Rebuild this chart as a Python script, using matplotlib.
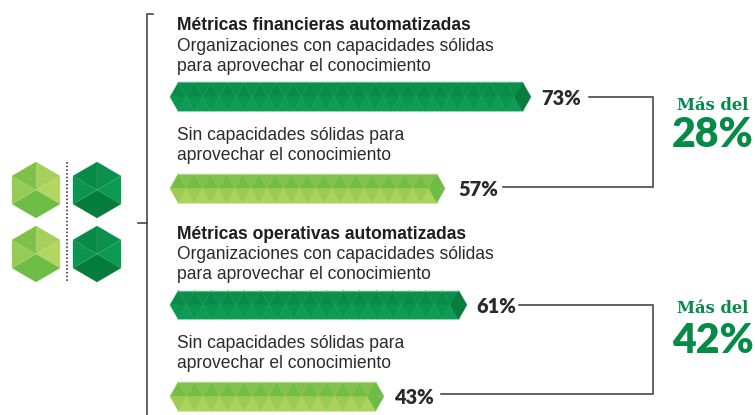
import matplotlib
matplotlib.use("Agg")
import matplotlib.pyplot as plt
from matplotlib.patches import Polygon

# ---- data ----
heads = ["Métricas financieras automatizadas", "Métricas operativas automatizadas"]
strong_label = ["Organizaciones con capacidades sólidas", "para aprovechar el conocimiento"]
weak_label = ["Sin capacidades sólidas para", "aprovechar el conocimiento"]
strong_vals = [73, 61]
weak_vals = [57, 43]
diffs = ["28%", "42%"]
diff_head = "Más del"

# ---- styles ----
W, H = 755, 415
PX_PER_PCT = 4.9
NOMINAL_TILE = 16.4
X0 = 170
DARK = dict(top="#0B8F4B", up="#098B48", lo="#0B9650", bot="#0D9C55", end="#067C3D", edge="#55BA8B", rim="#7CC8A2")
LIGHT = dict(top="#82C14D", up="#72BD46", lo="#9ACB52", bot="#ACD35C", end="#6BBD46", edge="#B5DC85", rim="#C5E29A")
INK = "#2B2A2B"
LINE = "#404040"
GREEN = "#058A48"

fig = plt.figure(figsize=(W/100, H/100), dpi=100)
ax = fig.add_axes([0, 0, 1, 1])
ax.set_xlim(0, W)
ax.set_ylim(H, 0)
ax.axis("off")


def poly(pts, c, z=2):
    ax.add_patch(Polygon(pts, closed=True, fc=c, ec=c, lw=0.2, zorder=z))


def bar(value, ytop, pal, tile, h=28.8):
    n = int(round(value*PX_PER_PCT/NOMINAL_TILE))
    ym, yb = ytop+h/2, ytop+h
    first = X0+tile/2
    last = X0+(n-0.5)*tile
    poly([(first, ytop), (last, ytop), (last, ym), (first, ym)], pal["top"])
    poly([(first, ym), (last, ym), (last, yb), (first, yb)], pal["bot"])
    for i in range(n):
        xc = X0+(i+0.5)*tile
        xl, xr = xc-tile/2, xc+tile/2
        up = pal["end"] if i == n-1 else pal["up"]
        lo = pal["end"] if i == n-1 else pal["lo"]
        poly([(xl, ym), (xc, ytop), (xr, ym)], up, 3)
        poly([(xl, ym), (xc, yb), (xr, ym)], lo, 3)
        if i < n-1:
            for a, b in [((xl, ym), (xc, ytop)), ((xc, ytop), (xr, ym)),
                         ((xl, ym), (xc, yb)), ((xc, yb), (xr, ym))]:
                ax.plot([a[0], b[0]], [a[1], b[1]], color=pal["edge"], lw=0.3, alpha=0.55, zorder=4)
    ax.plot([first, last], [ytop, ytop], color=pal["rim"], lw=0.5, zorder=4)
    ax.plot([first, last], [yb, yb], color=pal["rim"], lw=0.5, zorder=4)
    return X0+n*tile


def txt(x, y, s, **k):
    k.setdefault("family", "Liberation Sans")
    k.setdefault("color", INK)
    k.setdefault("va", "baseline")
    ax.text(x, y, s, **k)


def line(xs, ys, **k):
    k.setdefault("color", LINE)
    k.setdefault("lw", 1.15)
    ax.plot(xs, ys, solid_capstyle="projecting", solid_joinstyle="miter", **k)


FS = 12.62
NUM = dict(family="Lato", fontweight="heavy", fontsize=14.4, va="center")
blocks = [
    dict(base=(30.5, 51, 71, 139.5, 160), tops=(82.5, 174), tiles=(16.41, 16.18),
         lx=(541, 458), ly=(98, 189), sx=(589, 503), sy=(97, 187.3), dy=(105.5, 134.5)),
    dict(base=(238.5, 259, 279, 347.5, 368), tops=(290.5, 382), tiles=(16.5, 16.46),
         lx=(476, 394.5), ly=(306.5, 397), sx=(519, 441), sy=(305, 394.3), dy=(308.5, 341)),
]
for i, b in enumerate(blocks):
    yb = b["base"]
    txt(177, yb[0], heads[i], fontsize=FS, fontweight="bold", color="#1F1D1E")
    txt(177, yb[1], strong_label[0], fontsize=FS)
    txt(177, yb[2], strong_label[1], fontsize=FS)
    txt(177, yb[3], weak_label[0], fontsize=FS)
    txt(177, yb[4], weak_label[1], fontsize=FS)
    bar(strong_vals[i], b["tops"][0], DARK, b["tiles"][0])
    bar(weak_vals[i], b["tops"][1], LIGHT, b["tiles"][1])
    txt(b["lx"][0], b["ly"][0], f"{strong_vals[i]}%", **NUM)
    txt(b["lx"][1], b["ly"][1], f"{weak_vals[i]}%", **NUM)
    line([b["sx"][0], 653, 653, b["sx"][1]], [b["sy"][0], b["sy"][0], b["sy"][1], b["sy"][1]])
    txt(712.5, b["dy"][0], diff_head, family="DejaVu Serif", fontweight="bold", fontsize=11.8,
        color=GREEN, ha="center", va="center")
    txt(712.5, b["dy"][1], diffs[i], family="Lato", fontweight="heavy", fontsize=29.5,
        color=GREEN, ha="center", va="center")

# bracket
line([153, 146.5, 146.5], [14, 14, 415])
line([138, 146.5], [223, 223])
ax.plot([66.5, 66.5], [162, 282], color="#222222", lw=1.1, ls=(0, (1, 1.4)))


# hexagons
def hexagon(cx, cy, cols, r=28, hw=24):
    pts = [(cx, cy-r), (cx+hw, cy-r/2), (cx+hw, cy+r/2), (cx, cy+r), (cx-hw, cy+r/2), (cx-hw, cy-r/2)]
    c = (cx, cy)
    for j in range(6):
        poly([c, pts[j], pts[(j+1) % 6]], cols[j], 2)
    for j in [0, 1, 2, 4, 5]:
        ax.plot([cx, pts[j][0]], [cy, pts[j][1]], color="#FFFFFF", alpha=0.2, lw=0.35, zorder=3)


hl = ["#A6CF5B", "#B3D561", "#6DBD46", "#6DBD46", "#98CB53", "#7FC04B"]
hd = ["#0A914E", "#0C9A50", "#067C3C", "#067C3C", "#0B944F", "#068A45"]
for cy in (190, 254):
    hexagon(36, cy, hl)
    hexagon(97, cy, hd)

fig.savefig("out.png", dpi=100)
